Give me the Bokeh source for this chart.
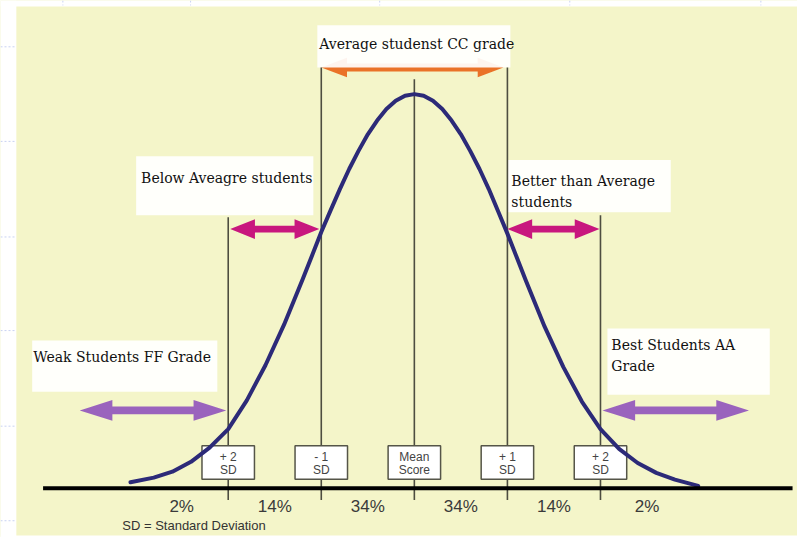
from bokeh.plotting import figure
from bokeh.models import Range1d
from bokeh.embed import file_html
from bokeh.resources import INLINE
from bokeh.core.properties import value

# ---------------- data ----------------
sd_marks = [-2, -1, 0, 1, 2]
mark_line1 = ["+ 2", "- 1", "Mean", "+ 1", "+ 2"]
mark_line2 = ["SD", "SD", "Score", "SD", "SD"]
band_centers = [-2.5, -1.5, -0.5, 0.5, 1.5, 2.5]
band_labels = ["2%", "14%", "34%", "34%", "14%", "2%"]
curve_x = [-3.05, -2.8, -2.6, -2.4, -2.2, -2.0, -1.8, -1.6, -1.4, -1.2, -1.1,
           -1.0, -0.9, -0.8, -0.7, -0.6, -0.5, -0.4, -0.3, -0.2, -0.1, 0.0,
           0.1, 0.2, 0.3, 0.4, 0.5, 0.6, 0.7, 0.8, 0.9, 1.0, 1.1, 1.2, 1.4,
           1.6, 1.8, 2.0, 2.2, 2.4, 2.6, 2.8, 3.05]
curve_y = [1.5, 2.7, 4.2, 6.7, 10.3, 15.0, 22.3, 31.2, 41.5, 53.0, 59.0,
           65.0, 70.5, 75.9, 81.0, 85.6, 89.8, 93.3, 96.2, 98.3, 99.6, 100.0,
           99.6, 98.3, 96.2, 93.3, 89.8, 85.6, 81.0, 75.9, 70.3, 64.6, 58.6, 52.6, 41.0,
           30.8, 22.0, 15.0, 10.0, 6.4, 3.9, 2.2, 0.6]

# ---------------- layout helpers (reference pixel -> data) ----------------
X0, SD_PX = 418.0, 94.0
Y0, UNIT_PX = 495.0, 4.0
def dx(px):
    return (px - X0) / SD_PX
def dy(py):
    return (Y0 - py) / UNIT_PX

W, H = 797, 537
p = figure(width=W, height=H,
           x_range=Range1d(dx(0), dx(805)), y_range=Range1d(dy(545), dy(0)),
           output_backend="svg", toolbar_location=None,
           x_axis_location=None, y_axis_location=None,
           min_border_left=0, min_border_right=0, min_border_top=0, min_border_bottom=0,
           background_fill_color="#f4f5c9", border_fill_color="white",
           outline_line_color=None)
p.grid.visible = False

# white page margins around the yellow panel
p.quad(left=[dx(0), dx(0), dx(0)], right=[dx(16), dx(805), dx(805)],
       top=[dy(0), dy(0), dy(543)], bottom=[dy(545), dy(6), dy(545)],
       fill_color="white", line_color=None)
# faint slide-grid dashes in the margin
p.segment(x0=[dx(v) for v in [63, 192, 383, 575, 768]],
          x1=[dx(v) for v in [63, 192, 383, 575, 768]],
          y0=[dy(0)] * 5, y1=[dy(5)] * 5, line_color="#c9d2f2", line_width=1,
          line_dash="2 2")
p.segment(x0=[dx(0)] * 6, x1=[dx(15)] * 6,
          y0=[dy(v) for v in [47, 143, 240, 335, 432, 528]],
          y1=[dy(v) for v in [47, 143, 240, 335, 432, 528]],
          line_color="#c9d2f2", line_width=1, line_dash="2 2")

def arrow_poly(x0, x1, yc, shaft, hl, hw):
    pts = [(x0, yc), (x0 + hl, yc - hw / 2), (x0 + hl, yc - shaft / 2),
           (x1 - hl, yc - shaft / 2), (x1 - hl, yc - hw / 2), (x1, yc),
           (x1 - hl, yc + hw / 2), (x1 - hl, yc + shaft / 2),
           (x0 + hl, yc + shaft / 2), (x0 + hl, yc + hw / 2)]
    return [dx(a) for a, b in pts], [dy(b) for a, b in pts]

# orange arrow (partly hidden under the top box)
ox, oy = arrow_poly(324, 508, 68, 8, 26, 20)
p.patch(ox, oy, fill_color="#ea7228", line_color=None)

# white callout boxes
boxes = [(320, 515, 25, 68), (137, 316, 158, 218), (512, 677, 162, 215),
         (32, 219, 345, 397), (613, 777, 333, 400)]
p.quad(left=[dx(b[0]) for b in boxes], right=[dx(b[1]) for b in boxes],
       top=[dy(b[2]) for b in boxes], bottom=[dy(b[3]) for b in boxes],
       fill_color="white", fill_alpha=0.92, line_color=None)

# vertical SD lines
tops_px = [220, 68, 80, 68, 218]
p.segment(x0=sd_marks, x1=sd_marks, y0=[dy(507)] * 5, y1=[dy(t) for t in tops_px],
          line_color="#4d4d40", line_width=1.6)

# SD marker boxes
bw = 53 / SD_PX
p.quad(left=[m - bw / 2 for m in sd_marks], right=[m + bw / 2 for m in sd_marks],
       top=[dy(452)] * 5, bottom=[dy(486)] * 5,
       fill_color="white", line_color="#555548", line_width=1.5)
p.text(x=sd_marks, y=[dy(463)] * 5, text=mark_line1, text_align="center",
       text_baseline="middle", text_font=value("Liberation Sans"),
       text_font_size="12px", text_color="#444444")
p.text(x=sd_marks, y=[dy(476)] * 5, text=mark_line2, text_align="center",
       text_baseline="middle", text_font=value("Liberation Sans"),
       text_font_size="12px", text_color="#444444")

# normal curve
p.line(curve_x, curve_y, line_color="#2c2a78", line_width=4, line_join="round",
       line_cap="round")

# baseline
p.segment(x0=[dx(43)], x1=[dx(800)], y0=[0], y1=[0], line_color="#000000", line_width=4)

# magenta arrows
for x0, x1 in [(232, 322), (512, 605)]:
    ax, ay = arrow_poly(x0, x1, 232, 7, 25, 20)
    p.patch(ax, ay, fill_color="#c8177e", line_color=None)

# purple arrows
for x0, x1 in [(80, 228), (608, 756)]:
    ax, ay = arrow_poly(x0, x1, 416, 8, 33, 21)
    p.patch(ax, ay, fill_color="#9a63bd", line_color=None)

# band percentages
p.text(x=band_centers, y=[dy(514)] * 6, text=band_labels, text_align="center",
       text_baseline="middle", text_font=value("Liberation Sans"),
       text_font_size="17px", text_color="#3a3a3a")

p.text(x=[dx(123)], y=[dy(533)], text=["SD = Standard Deviation"], text_align="left",
       text_baseline="middle", text_font=value("Liberation Sans"),
       text_font_size="13px", text_color="#333333")

# callout texts (serif)
serif = dict(text_align="left", text_baseline="alphabetic",
             text_font=value("DejaVu Serif"), text_font_size="14px", text_color="#111111")
callouts = [(322, 44, "Average studenst CC grade"),
            (142, 180, "Below Aveagre students"),
            (516, 183, "Better than Average"),
            (516, 205, "students"),
            (33, 362, "Weak Students FF Grade"),
            (617, 350, "Best Students AA"),
            (617, 371, "Grade")]
p.text(x=[dx(c[0]) for c in callouts], y=[dy(c[1]) for c in callouts],
       text=[c[2] for c in callouts], **serif)

open("out.html", "w").write(file_html(p, INLINE))
